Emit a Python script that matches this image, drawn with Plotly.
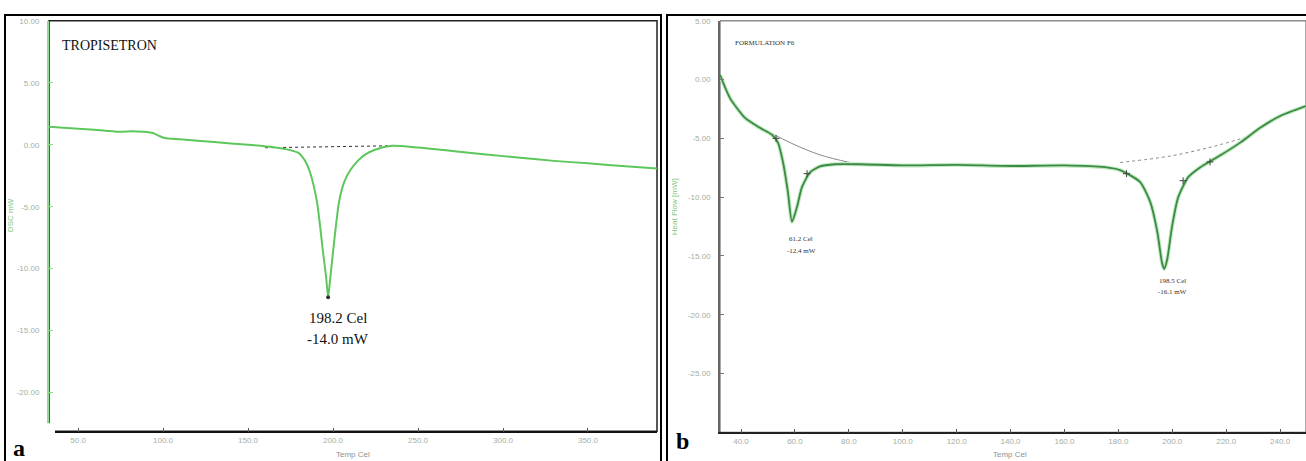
import plotly.graph_objects as go

W, H = 1306, 461

# ---------------- data: panel a (TROPISETRON) ----------------
temp_a = [33.0, 50.0, 65.0, 75.0, 82.0, 88.0, 94.0, 98.0, 101.0, 110.0, 130.0, 150.0, 165.0,
          172.0, 179.4, 183.5, 186.5, 190.6, 194.1, 195.9, 197.1, 198.2, 200.0, 203.5, 206.5,
          210.0, 214.7, 218.8, 224.7, 234.7, 250.0, 270.0, 290.0, 310.0, 330.0, 350.0, 370.0, 390.6]
dsc_a = [1.45, 1.3, 1.15, 1.05, 1.1, 1.05, 0.95, 0.7, 0.55, 0.45, 0.22, 0.0, -0.2,
         -0.35, -0.64, -1.28, -2.24, -4.64, -8.64, -10.64, -12.3, -11.0, -8.64, -4.64, -3.04,
         -2.08, -1.28, -0.8, -0.4, -0.08, -0.22, -0.5, -0.78, -1.05, -1.3, -1.5, -1.72, -1.92]
base_a_t = [160.0, 234.7]
base_a_v = [-0.24, -0.08]

# ---------------- data: panel b (FORMULATION F6) ----------------
temp_b = [32.2, 35.9, 41.5, 47.0, 51.5, 53.7, 55.6, 57.4, 58.9, 60.8, 62.6, 65.6, 69.3, 74.9,
          84.2, 100.0, 120.0, 140.0, 160.0, 175.0, 180.6, 188.0, 191.8, 194.4, 196.2, 197.0,
          198.1, 199.9, 202.2, 205.9, 210.3, 217.7, 225.2, 232.6, 240.0, 249.6]
hf_b = [0.4, -1.57, -3.26, -4.1, -4.69, -5.36, -7.05, -9.57, -12.1, -10.8, -9.15, -7.9, -7.38, -7.2,
        -7.2, -7.3, -7.25, -7.35, -7.3, -7.45, -7.7, -8.7, -10.4, -12.9, -15.6, -16.1,
        -15.3, -12.5, -10.0, -8.3, -7.47, -6.46, -5.36, -4.1, -3.09, -2.25]
base_b1_t = [42.6, 58.2, 69.3, 80.4]
base_b1_v = [-3.5, -5.36, -6.4, -7.05]
base_b2_t = [180.6, 199.2, 215.0, 228.0]
base_b2_v = [-7.05, -6.5, -5.7, -4.85]
mark_b_t = [53.0, 64.5, 183.0, 204.0, 214.0]
mark_b_v = [-5.0, -8.0, -8.0, -8.6, -7.0]

xt_a = [50, 100, 150, 200, 250, 300, 350]
yt_a = [10, 5, 0, -5, -10, -15, -20]
xt_b = [40, 60, 80, 100, 120, 140, 160, 180, 200, 220, 240]
yt_b = [5, 0, -5, -10, -15, -20, -25]


def px(x):
    return x / W


def py(y):
    return 1 - y / H


fig = go.Figure()

fig.add_trace(go.Scatter(x=base_a_t, y=base_a_v, mode="lines", xaxis="x", yaxis="y",
                         line=dict(color="#333333", width=1, dash="dot"), showlegend=False))
fig.add_trace(go.Scatter(x=temp_a, y=dsc_a, mode="lines", xaxis="x", yaxis="y",
                         line=dict(color="#5cc85c", width=2, shape="spline", smoothing=0.6),
                         showlegend=False))
fig.add_trace(go.Scatter(x=[197.1], y=[-12.3], mode="markers", xaxis="x", yaxis="y",
                         marker=dict(color="#333333", size=4), showlegend=False))

fig.add_trace(go.Scatter(x=base_b1_t, y=base_b1_v, mode="lines", xaxis="x2", yaxis="y2",
                         line=dict(color="#888888", width=1, shape="spline"), showlegend=False))
fig.add_trace(go.Scatter(x=base_b2_t, y=base_b2_v, mode="lines", xaxis="x2", yaxis="y2",
                         line=dict(color="#888888", width=1, dash="dot", shape="spline"),
                         showlegend=False))
fig.add_trace(go.Scatter(x=temp_b, y=hf_b, mode="lines", xaxis="x2", yaxis="y2",
                         line=dict(color="#c2eac2", width=4, shape="spline", smoothing=0.6),
                         showlegend=False))
fig.add_trace(go.Scatter(x=temp_b, y=hf_b, mode="lines", xaxis="x2", yaxis="y2",
                         line=dict(color="#3d8a45", width=1.8, shape="spline", smoothing=0.6),
                         showlegend=False))
fig.add_trace(go.Scatter(x=mark_b_t, y=mark_b_v, mode="markers", xaxis="x2", yaxis="y2",
                         marker=dict(symbol="cross-thin", color="#444444", size=5,
                                     line=dict(width=1, color="#444444")), showlegend=False))

tickfont = dict(family="Liberation Sans, Arial", size=8, color="#a4aea4")

common = dict(showgrid=False, zeroline=False, ticks="inside", ticklen=4, tickwidth=1,
              tickfont=tickfont)

fig.update_layout(
    width=W, height=H, margin=dict(l=0, r=0, t=0, b=0),
    paper_bgcolor="white", plot_bgcolor="white",
    xaxis=dict(domain=[px(49), px(657)], range=[32.9, 390.6], anchor="y",
               tickvals=xt_a, ticktext=[f"{v:.1f}" for v in xt_a],
               showline=True, linecolor="#111111", linewidth=1.5, tickcolor="#555555", **common),
    yaxis=dict(domain=[py(431), py(17)], range=[-23.12, 10], anchor="x",
               tickvals=yt_a, ticktext=[f"{v:.2f}" for v in yt_a],
               showline=True, linecolor="#8fdc8f", linewidth=2, tickcolor="#8fdc8f",
               ticklabelstandoff=6, **common),
    xaxis2=dict(domain=[px(720), 1.0], range=[32.2, 249.6], anchor="y2",
                tickvals=xt_b, ticktext=[f"{v:.1f}" for v in xt_b],
                showline=True, linecolor="#222222", linewidth=1.5, tickcolor="#555555", **common),
    yaxis2=dict(domain=[py(432), py(17)], range=[-30, 5], anchor="x2",
                tickvals=yt_b, ticktext=[f"{v:.2f}" for v in yt_b],
                showline=True, linecolor="#666666", linewidth=1.5, tickcolor="#777777",
                ticklabelstandoff=6, **common),
)

shapes = [
    dict(type="rect", xref="x domain", yref="y domain", x0=0, x1=1, y0=0, y1=1,
         line=dict(color="#222222", width=1.5), layer="below"),
    dict(type="rect", xref="x2 domain", yref="y2 domain", x0=0, x1=1, y0=0, y1=1,
         line=dict(color="#555555", width=1), layer="below"),
    dict(type="rect", xref="paper", yref="paper", x0=px(5), x1=px(661), y0=-0.01, y1=py(11),
         line=dict(color="black", width=2)),
    dict(type="rect", xref="paper", yref="paper", x0=px(667), x1=1.01, y0=-0.01, y1=py(11),
         line=dict(color="black", width=2)),
    dict(type="rect", xref="paper", yref="paper", x0=px(7), x1=px(55), y0=py(459), y1=py(423),
         fillcolor="white", line=dict(width=0), layer="above"),
]
fig.update_layout(shapes=shapes)

serif = "Liberation Serif, Times New Roman, serif"
sans = "Liberation Sans, Arial"
ann = [
    dict(x=px(60), y=py(42), text="TROPISETRON", xanchor="left", font=dict(family=serif, size=14, color="#111111")),
    dict(x=px(338), y=py(317), text="198.2 Cel", font=dict(family=serif, size=15, color="#111111")),
    dict(x=px(338), y=py(338), text="-14.0 mW", font=dict(family=serif, size=15, color="#111111")),
    dict(x=px(733), y=py(39), text="FORMULATION F6", xanchor="left", font=dict(family=serif, size=7, color="#333333")),
    dict(x=px(801), y=py(237), text="61.2 Cel", font=dict(family=serif, size=7, color="#333333")),
    dict(x=px(801), y=py(249), text="-12.4 mW", font=dict(family=serif, size=7, color="#333333")),
    dict(x=px(1172), y=py(279), text="198.5 Cel", font=dict(family=serif, size=7, color="#333333")),
    dict(x=px(1172), y=py(291), text="-16.1 mW", font=dict(family=serif, size=7, color="#333333")),
    dict(x=px(19), y=py(448), text="<b>a</b>", font=dict(family=serif, size=24, color="black")),
    dict(x=px(682), y=py(441), text="<b>b</b>", font=dict(family=serif, size=24, color="black")),
    dict(x=px(353), y=py(454), text="Temp Cel", font=dict(family=sans, size=8, color="#909090")),
    dict(x=px(1010), y=py(454), text="Temp Cel", font=dict(family=sans, size=8, color="#909090")),
    dict(x=px(10), y=py(213), text="DSC mW", textangle=-90, font=dict(family=sans, size=8, color="#7cc87c")),
    dict(x=px(674), y=py(205), text="Heat Flow [mW]", textangle=-90, font=dict(family=sans, size=8, color="#7cc87c")),
]
for a in ann:
    a.setdefault("xanchor", "center")
    a.update(xref="paper", yref="paper", showarrow=False, yanchor="middle")
fig.update_layout(annotations=ann)

fig.write_html("out.html", config={"displayModeBar": False},
               post_script="document.body.style.margin='0px';document.body.style.overflow='hidden';")
